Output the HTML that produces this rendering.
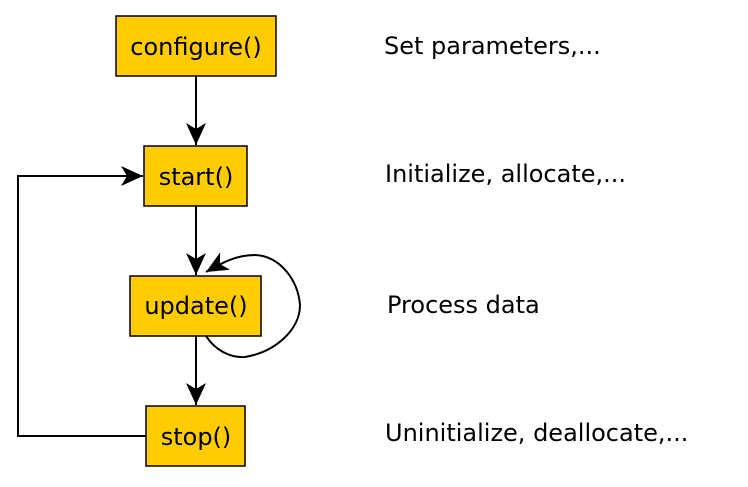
<!DOCTYPE html>
<html><head><style>body{margin:0;background:#fff} text{font-family:"DejaVu Sans",sans-serif;font-size:24px}</style></head><body>
<svg width="748" height="482" xmlns="http://www.w3.org/2000/svg">
<defs><marker id="a" markerWidth="24" markerHeight="24" refX="22" refY="12" orient="auto" markerUnits="userSpaceOnUse"><path d="M0,2 L22,12 L0,22 L6,12 Z" fill="#000"/></marker></defs>
<g fill="#ffcc00" stroke="#000" stroke-width="1.5">
<rect x="116" y="16" width="160" height="60"/>
<rect x="144" y="146" width="103" height="60"/>
<rect x="130" y="276" width="131" height="60"/>
<rect x="146" y="406" width="99" height="60"/>
</g>
<g stroke="#000" stroke-width="2" fill="none">
<line x1="196" y1="76" x2="196" y2="145" marker-end="url(#a)"/>
<line x1="196" y1="206" x2="196" y2="275" marker-end="url(#a)"/>
<line x1="196" y1="336" x2="196" y2="405" marker-end="url(#a)"/>
<polyline points="146,436 18,436 18,176 143,176" marker-end="url(#a)"/>
<path d="M206,336 C215,350 230,358 245,357 C275,352 300,330 300,305 C298,280 280,256 255,255 C235,255 220,264 206,272" marker-end="url(#a)"/>
</g>
<g text-anchor="middle" dominant-baseline="central">
<text x="196" y="47">configure()</text>
<text x="196" y="177">start()</text>
<text x="196" y="306">update()</text>
<text x="196" y="437">stop()</text>
</g>
<g dominant-baseline="central">
<text x="384" y="46">Set parameters,...</text>
<text x="385" y="174">Initialize, allocate,...</text>
<text x="387" y="305">Process data</text>
<text x="385" y="433">Uninitialize, deallocate,...</text>
</g>
</svg>
</body></html>
